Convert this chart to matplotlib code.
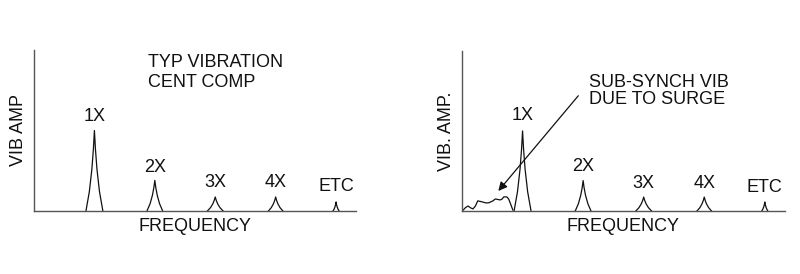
import matplotlib.pyplot as plt

plt.rcParams['font.family'] = ['Liberation Sans', 'DejaVu Sans']

# harmonic peaks (frequency in multiples of running speed, amplitude relative to axis height)
peak_labels = ["1X", "2X", "3X", "4X", "ETC"]
peak_freqs = [1, 2, 3, 4, 5]
peak_amps = [0.50, 0.19, 0.087, 0.087, 0.056]
peak_halfwidths = [0.14, 0.13, 0.13, 0.12, 0.05]
label_y_left = [0.59, 0.273, 0.174, 0.174, 0.149]
label_y_right = [0.594, 0.275, 0.169, 0.169, 0.144]

# cusp-like peak profile
profile_x = [-1, -0.6, -0.3, -0.12, 0, 0.12, 0.3, 0.6, 1]
profile_y = [0, 0.24, 0.52, 0.77, 1, 0.77, 0.52, 0.24, 0]

# sub-synchronous surge vibration
sub_x = [0.0, 0.02, 0.06, 0.10, 0.14, 0.18, 0.22, 0.26, 0.30, 0.35, 0.40, 0.45, 0.48,
         0.51, 0.55, 0.59, 0.63, 0.66, 0.69, 0.74, 0.77, 0.79, 0.84]
sub_y = [0.0, 0.006, 0.022, 0.031, 0.02, 0.013, 0.03, 0.063, 0.06, 0.055, 0.05, 0.052, 0.058,
         0.063, 0.075, 0.072, 0.069, 0.074, 0.088, 0.088, 0.075, 0.056, 0.006]

FS = 13
INK = "#111111"


def draw_peaks(ax):
    for f, a, w in zip(peak_freqs, peak_amps, peak_halfwidths):
        xs = [f + p * w for p in profile_x]
        ys = [a * p for p in profile_y]
        ax.plot(xs, ys, color=INK, lw=0.9)


def style(ax, ylabel):
    ax.set_xlim(0, 5.33)
    ax.set_ylim(0, 1)
    for s in ["top", "right"]:
        ax.spines[s].set_visible(False)
    for s in ["left", "bottom"]:
        ax.spines[s].set_color("#555555")
        ax.spines[s].set_linewidth(1.0)
    ax.set_xticks([])
    ax.set_yticks([])
    ax.set_xlabel("FREQUENCY", fontsize=FS, labelpad=5, color=INK)
    ax.set_ylabel(ylabel, fontsize=FS, labelpad=5, color=INK)


fig = plt.figure(figsize=(8, 2.74), dpi=100)
ax1 = fig.add_axes([0.0425, 0.23, 0.4025, 0.5875])
ax2 = fig.add_axes([0.5775, 0.23, 0.4035, 0.584])

draw_peaks(ax1)
style(ax1, "VIB AMP")
for lab, f, y in zip(peak_labels, peak_freqs, label_y_left):
    ax1.text(f, y, lab, ha="center", va="center", fontsize=FS, color=INK)
ax1.text(1.88, 0.925, "TYP VIBRATION", ha="left", va="center", fontsize=FS, color=INK)
ax1.text(1.88, 0.80, "CENT COMP", ha="left", va="center", fontsize=FS, color=INK)

draw_peaks(ax2)
ax2.plot(sub_x, sub_y, color=INK, lw=0.9)
style(ax2, "VIB. AMP.")
for lab, f, y in zip(peak_labels, peak_freqs, label_y_right):
    ax2.text(f, y, lab, ha="center", va="center", fontsize=FS, color=INK)
ax2.text(2.10, 0.80, "SUB-SYNCH VIB", ha="left", va="center", fontsize=FS, color=INK)
ax2.text(2.10, 0.694, "DUE TO SURGE", ha="left", va="center", fontsize=FS, color=INK)
ax2.annotate("", xy=(0.60, 0.125), xytext=(1.92, 0.72),
             arrowprops=dict(arrowstyle="-|>", color=INK, lw=0.9,
                             mutation_scale=13, shrinkA=0, shrinkB=0))

fig.savefig("out.png", dpi=100)
